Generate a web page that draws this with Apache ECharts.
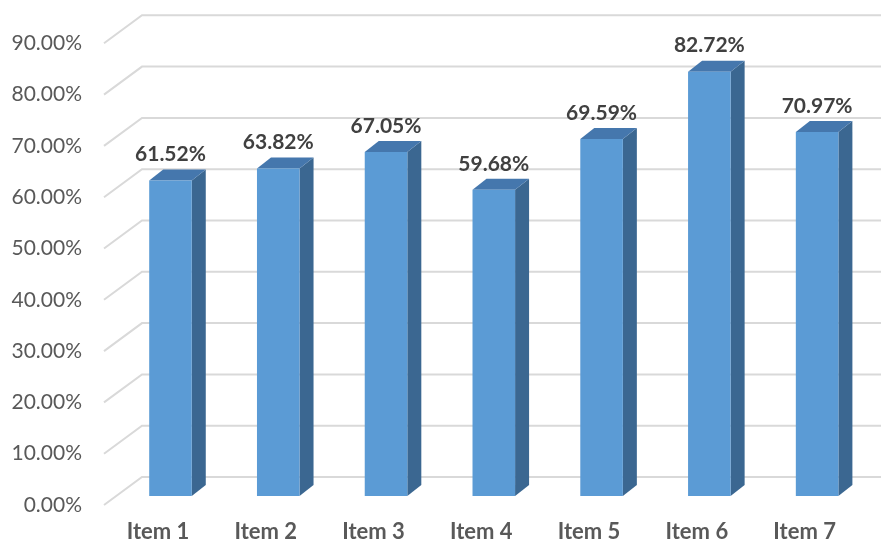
<!DOCTYPE html>
<html>
<head>
<meta charset="utf-8">
<script src="https://cdn.jsdelivr.net/npm/echarts@6/dist/echarts.min.js"></script>
<style>
  html, body { margin: 0; padding: 0; background: #fff; }
  #chart { width: 881px; height: 544px; }
</style>
</head>
<body>
<div id="chart"></div>
<script>
const categories = ['Item 1', 'Item 2', 'Item 3', 'Item 4', 'Item 5', 'Item 6', 'Item 7'];
const values = [61.52, 63.82, 67.05, 59.68, 69.59, 82.72, 70.97];
const yTicks = [0, 10, 20, 30, 40, 50, 60, 70, 80, 90];

const FONT = 'Lato, "Open Sans", sans-serif';
// perspective offsets (px)
const BAR_DX = 14, BAR_DY = -11;
const FLOOR_FRONT_DX = -12.6, FLOOR_FRONT_DY = 9;
const WALL_DX = 25.4, WALL_DY = -19;

const chart = echarts.init(document.getElementById('chart'));

const renderGridLine = (params, api) => {
  const cs = params.coordSys;
  const y = api.coord([0, api.value(1)])[1];
  return {
    type: 'polyline',
    shape: {
      points: [
        [cs.x + FLOOR_FRONT_DX, y + FLOOR_FRONT_DY],
        [cs.x + WALL_DX, y + WALL_DY],
        [cs.x + cs.width + 12, y + WALL_DY]
      ]
    },
    style: { stroke: '#d9d9d9', lineWidth: 2, fill: null }
  };
};

const renderBar = (params, api) => {
  const top = api.coord([api.value(0), api.value(1)]);
  const base = api.coord([api.value(0), 0]);
  const bw = api.size([1, 0])[0] * 0.395;
  const x0 = top[0] - bw / 2, x1 = top[0] + bw / 2;
  return {
    type: 'group',
    children: [
      {
        type: 'polygon',
        shape: { points: [[x1, top[1]], [x1 + BAR_DX, top[1] + BAR_DY], [x1 + BAR_DX, base[1] + BAR_DY], [x1, base[1]]] },
        style: { fill: '#3b6791' }
      },
      {
        type: 'polygon',
        shape: { points: [[x0, top[1]], [x0 + BAR_DX, top[1] + BAR_DY], [x1 + BAR_DX, top[1] + BAR_DY], [x1, top[1]]] },
        style: { fill: '#4577ad' }
      },
      {
        type: 'rect',
        shape: { x: x0, y: top[1], width: bw, height: base[1] - top[1] },
        style: { fill: '#5b9bd5' }
      },
      {
        type: 'text',
        x: top[0],
        y: top[1] - 26,
        style: {
          text: api.value(1).toFixed(2) + '%',
          fill: '#404040',
          font: 'bold 21px ' + FONT,
          align: 'center',
          verticalAlign: 'middle'
        }
      }
    ]
  };
};

const hiddenAxis = {
  axisLine: { show: false },
  axisTick: { show: false },
  splitLine: { show: false }
};

chart.setOption({
  animation: false,
  grid: [
    { left: 116.6, right: 10, top: 34.3, bottom: 48 },
    // labels sit on the front edge of the floor, 9px lower
    { left: 116.6, right: 10, top: 43.3, bottom: 39 }
  ],
  xAxis: [
    {
      type: 'category',
      data: categories,
      gridIndex: 0,
      ...hiddenAxis,
      axisLabel: {
        margin: 25,
        color: '#595959',
        fontFamily: FONT,
        fontSize: 22,
        fontWeight: 'bold',
        padding: [0, 25, 0, 0]
      }
    },
    { type: 'category', data: categories, gridIndex: 1, show: false }
  ],
  yAxis: [
    {
      type: 'value',
      gridIndex: 0,
      min: 0,
      max: 90,
      interval: 10,
      ...hiddenAxis,
      axisLabel: { show: false }
    },
    {
      type: 'value',
      gridIndex: 1,
      min: 0,
      max: 90,
      interval: 10,
      ...hiddenAxis,
      axisLabel: {
        margin: 34.6,
        color: '#595959',
        fontFamily: FONT,
        fontSize: 21,
        formatter: (v) => v.toFixed(2) + '%'
      }
    }
  ],
  series: [
    {
      type: 'custom',
      renderItem: renderGridLine,
      data: yTicks.map((v) => [0, v]),
      z: 1,
      silent: true
    },
    {
      type: 'custom',
      renderItem: renderBar,
      data: values.map((v, i) => [i, v]),
      z: 2
    }
  ]
});
</script>
</body>
</html>
